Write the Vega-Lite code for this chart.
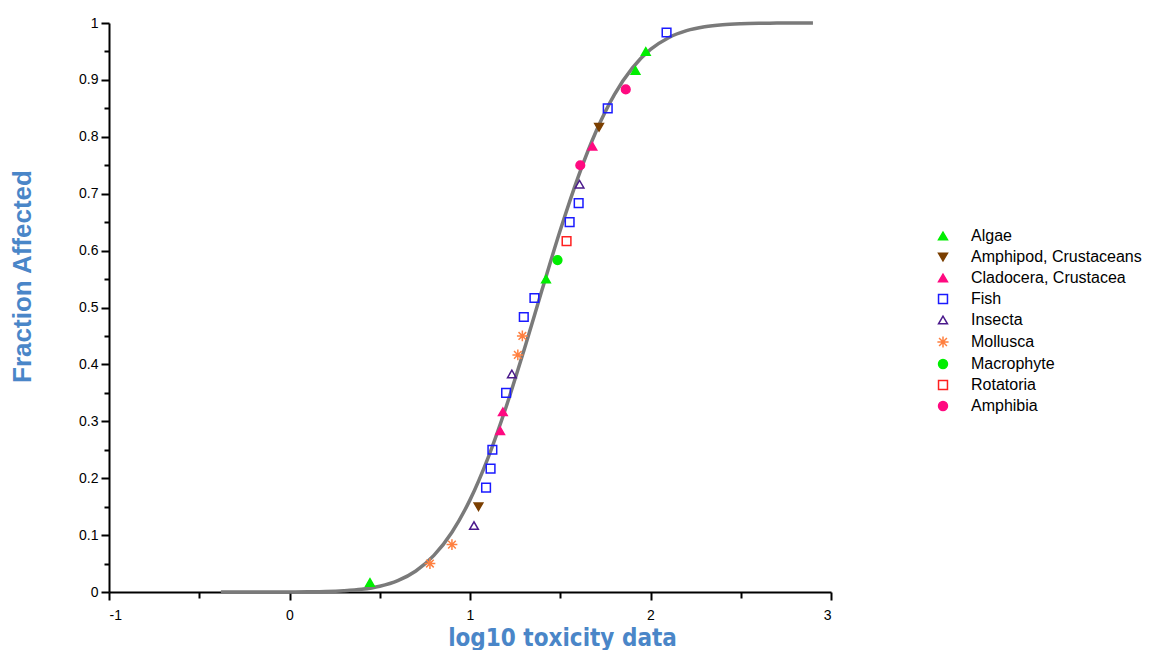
{
  "$schema": "https://vega.github.io/schema/vega-lite/v6.json",
  "autosize": "none",
  "width": 722,
  "height": 569,
  "padding": {"left": 109, "top": 23, "right": 320, "bottom": 58},
  "background": "white",
  "config": {
    "view": {"stroke": null},
    "axis": {
      "domainColor": "#000000",
      "domainWidth": 2,
      "tickColor": "#000000",
      "tickWidth": 2,
      "grid": false,
      "labelFont": "Liberation Sans",
      "labelFontSize": 14,
      "labelColor": "#000000"
    }
  },
  "datasets": {
    "curve": [
      {"x": -0.38, "y": 0.0},
      {"x": 0.0, "y": 0.0001},
      {"x": 0.1, "y": 0.0004},
      {"x": 0.2, "y": 0.0009},
      {"x": 0.3, "y": 0.0022},
      {"x": 0.4, "y": 0.0048},
      {"x": 0.5, "y": 0.0102},
      {"x": 0.6, "y": 0.02},
      {"x": 0.7, "y": 0.037},
      {"x": 0.8, "y": 0.0643},
      {"x": 0.9, "y": 0.1051},
      {"x": 1.0, "y": 0.1619},
      {"x": 1.1, "y": 0.2358},
      {"x": 1.2, "y": 0.3252},
      {"x": 1.3, "y": 0.4259},
      {"x": 1.4, "y": 0.5319},
      {"x": 1.5, "y": 0.6357},
      {"x": 1.6, "y": 0.7301},
      {"x": 1.7, "y": 0.8106},
      {"x": 1.8, "y": 0.8742},
      {"x": 1.9, "y": 0.9212},
      {"x": 2.0, "y": 0.9535},
      {"x": 2.1, "y": 0.9742},
      {"x": 2.2, "y": 0.9866},
      {"x": 2.3, "y": 0.9934},
      {"x": 2.4, "y": 0.997},
      {"x": 2.5, "y": 0.9987},
      {"x": 2.6, "y": 0.9995},
      {"x": 2.7, "y": 0.9998},
      {"x": 2.9, "y": 1.0}
    ],
    "points": [
      {"group": "Algae", "x": 0.446, "y": 0.0167},
      {"group": "Mollusca", "x": 0.778, "y": 0.05},
      {"group": "Mollusca", "x": 0.9, "y": 0.0833},
      {"group": "Insecta", "x": 1.022, "y": 0.1167},
      {"group": "Amphipod, Crustaceans", "x": 1.047, "y": 0.15},
      {"group": "Fish", "x": 1.089, "y": 0.1833},
      {"group": "Fish", "x": 1.114, "y": 0.2167},
      {"group": "Fish", "x": 1.124, "y": 0.25},
      {"group": "Cladocera, Crustacea", "x": 1.167, "y": 0.2833},
      {"group": "Cladocera, Crustacea", "x": 1.182, "y": 0.3167},
      {"group": "Fish", "x": 1.2, "y": 0.35},
      {"group": "Insecta", "x": 1.232, "y": 0.3833},
      {"group": "Mollusca", "x": 1.265, "y": 0.4167},
      {"group": "Mollusca", "x": 1.29, "y": 0.45},
      {"group": "Fish", "x": 1.298, "y": 0.4833},
      {"group": "Fish", "x": 1.357, "y": 0.5167},
      {"group": "Algae", "x": 1.421, "y": 0.55},
      {"group": "Macrophyte", "x": 1.485, "y": 0.5833},
      {"group": "Rotatoria", "x": 1.535, "y": 0.6167},
      {"group": "Fish", "x": 1.552, "y": 0.65},
      {"group": "Fish", "x": 1.602, "y": 0.6833},
      {"group": "Insecta", "x": 1.607, "y": 0.7167},
      {"group": "Amphibia", "x": 1.611, "y": 0.75},
      {"group": "Cladocera, Crustacea", "x": 1.678, "y": 0.7833},
      {"group": "Amphipod, Crustaceans", "x": 1.715, "y": 0.8167},
      {"group": "Fish", "x": 1.763, "y": 0.85},
      {"group": "Amphibia", "x": 1.863, "y": 0.8833},
      {"group": "Algae", "x": 1.917, "y": 0.9167},
      {"group": "Algae", "x": 1.974, "y": 0.95},
      {"group": "Fish", "x": 2.089, "y": 0.9833}
    ]
  },
  "layer": [
    {
      "data": {"name": "curve"},
      "mark": {"type": "line", "color": "#7a7a7a", "strokeWidth": 3.5, "interpolate": "monotone"},
      "encoding": {
        "x": {
          "field": "x", "type": "quantitative",
          "scale": {"domain": [-1, 3], "nice": false, "zero": false},
          "axis": {
            "orient": "bottom",
            "values": [-1, 0, 1, 2, 3],
            "tickSize": 8,
            "labelPadding": 8,
            "labelExpr": "'' + datum.value",
            "title": "log10 toxicity data",
            "titleFont": "Liberation Sans Narrow, DejaVu Sans Condensed, sans-serif",
            "titleFontSize": 24,
            "titleFontWeight": "bold",
            "titleColor": "#4a86c8",
            "titleX": 453,
            "titleY": 53,
            "titleBaseline": "alphabetic"
          }
        },
        "y": {
          "field": "y", "type": "quantitative",
          "scale": {"domain": [0, 1], "nice": false},
          "axis": {
            "orient": "left",
            "values": [0, 0.1, 0.2, 0.3, 0.4, 0.5, 0.6, 0.7, 0.8, 0.9, 1],
            "tickSize": 8,
            "labelPadding": 3,
            "labelExpr": "'' + datum.value",
            "title": "Fraction Affected",
            "titleFont": "Liberation Sans",
            "titleFontSize": 26,
            "titleFontWeight": "bold",
            "titleColor": "#4a86c8",
            "titleAngle": -90,
            "titleX": -74,
            "titleY": 253,
            "titleBaseline": "bottom"
          }
        }
      }
    },
    {
      "data": {"name": "points"},
      "mark": {"type": "point", "strokeWidth": 1.5, "opacity": 1, "size": 75},
      "encoding": {
        "x": {
          "field": "x", "type": "quantitative",
          "axis": {
            "orient": "bottom",
            "values": [-0.5, 0.5, 1.5, 2.5],
            "tickSize": 6,
            "labels": false,
            "domain": false,
            "title": null
          }
        },
        "y": {
          "field": "y", "type": "quantitative",
          "axis": {
            "orient": "left",
            "values": [0.05, 0.15, 0.25, 0.35, 0.45, 0.55, 0.65, 0.75, 0.85, 0.95],
            "tickSize": 5,
            "labels": false,
            "domain": false,
            "title": null
          }
        },
        "shape": {
          "field": "group", "type": "nominal",
          "scale": {
            "domain": ["Algae", "Amphipod, Crustaceans", "Cladocera, Crustacea", "Fish", "Insecta", "Mollusca", "Macrophyte", "Rotatoria", "Amphibia"],
            "range": ["triangle-up", "triangle-down", "triangle-up", "square", "triangle-up", "M-1.25,0L1.25,0M0,-1.25L0,1.25M-0.88,-0.88L0.88,0.88M-0.88,0.88L0.88,-0.88", "circle", "square", "circle"]
          },
          "legend": {
            "orient": "none",
            "legendX": 826,
            "legendY": 205,
            "title": null,
            "padding": 0,
            "symbolSize": 80,
            "symbolStrokeWidth": 1.5,
            "labelFont": "Liberation Sans",
            "labelFontSize": 16,
            "labelColor": "#000000",
            "labelLimit": 0,
            "labelOffset": 20,
            "rowPadding": 5
          }
        },
        "fill": {
          "field": "group", "type": "nominal",
          "scale": {
            "domain": ["Algae", "Amphipod, Crustaceans", "Cladocera, Crustacea", "Fish", "Insecta", "Mollusca", "Macrophyte", "Rotatoria", "Amphibia"],
            "range": ["#00ee00", "#7b3f00", "#ff0a80", "transparent", "transparent", "transparent", "#00ee00", "transparent", "#ff0a80"]
          }
        },
        "stroke": {
          "field": "group", "type": "nominal",
          "scale": {
            "domain": ["Algae", "Amphipod, Crustaceans", "Cladocera, Crustacea", "Fish", "Insecta", "Mollusca", "Macrophyte", "Rotatoria", "Amphibia"],
            "range": ["#00ee00", "#7b3f00", "#ff0a80", "#1a1aff", "#4b1a8c", "#ff8040", "#00ee00", "#ff2020", "#ff0a80"]
          }
        }
      }
    }
  ],
  "resolve": {"axis": {"x": "independent", "y": "independent"}}
}
